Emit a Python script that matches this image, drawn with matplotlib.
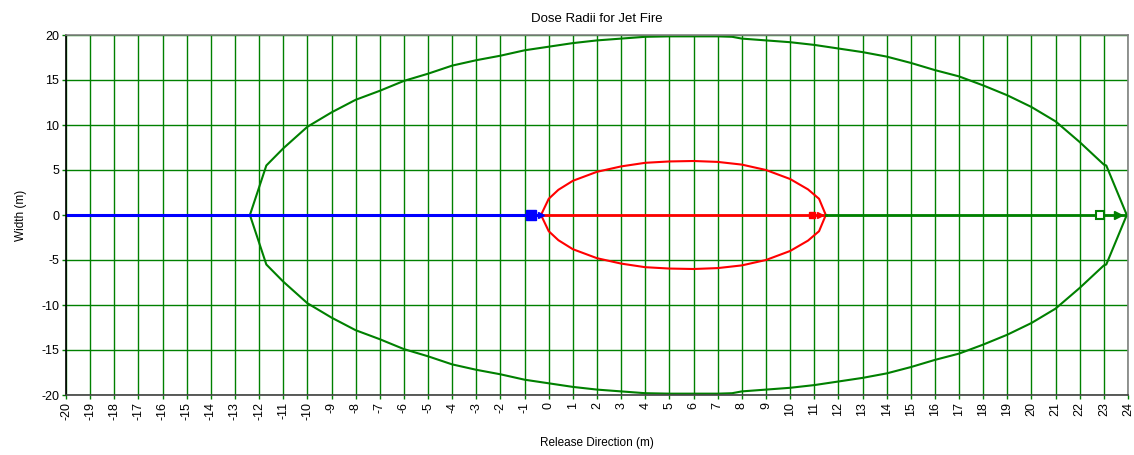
import matplotlib
matplotlib.use("Agg")
import matplotlib.pyplot as plt
import numpy as np

plt.rcParams['font.family'] = ['Liberation Sans', 'DejaVu Sans']

title = "Dose Radii for Jet Fire"
xlabel = "Release Direction (m)"
ylabel = "Width (m)"

# Outer (green) dose contour, upper half (x, y)
green_x = [-12.38, -11.7, -11, -10, -9, -8, -7, -6, -5, -4, -3, -2, -1, 0, 1, 2, 3, 4,
           5, 6, 7, 7.6, 8, 9, 10, 11, 12, 13, 14, 15, 16, 17, 18, 19, 20, 21, 22, 23, 23.1, 23.95]
green_y = [0, 5.5, 7.4, 9.8, 11.4, 12.8, 13.8, 14.9, 15.7, 16.6, 17.2, 17.7, 18.3, 18.7, 19.1, 19.4, 19.6, 19.8,
           19.85, 19.85, 19.85, 19.8, 19.6, 19.4, 19.2, 18.9, 18.5, 18.1, 17.6, 16.9, 16.1, 15.4, 14.4, 13.3, 12.0, 10.4, 8.1, 5.6, 5.5, 0]

# Inner (red) dose contour, upper half
red_x = [-0.32, 0.0, 0.4, 1, 2, 3, 4, 5, 6, 7, 8, 9, 10, 10.74, 11.2, 11.48]
red_y = [0, 1.8, 2.8, 3.8, 4.8, 5.4, 5.8, 5.95, 6.0, 5.9, 5.6, 5.0, 4.0, 2.85, 1.8, 0]

# Centre-line segments
blue_seg = [-20, -0.32]
red_seg = [-0.32, 11.48]
green_seg = [11.48, 23.95]

# marker positions (square, arrow) per segment
blue_mk = [-0.75, -0.3]
red_mk = [10.9, 11.25]
green_mk = [22.85, 23.6]

xticks = list(range(-20, 25))
yticks = list(range(-20, 21, 5))

W, H = 1134, 455
fig = plt.figure(figsize=(W / 100, H / 100), dpi=100)
ax = fig.add_axes([66 / W, 1 - 395 / H, (1128 - 66) / W, (395 - 35) / H])

GREEN = '#008000'

for x in xticks:
    ax.axvline(x, color=GREEN, lw=1, zorder=1)
for y in yticks:
    ax.axhline(y, color=GREEN, lw=1, zorder=1)

def closed(xs, ys):
    xs = np.asarray(xs, float)
    ys = np.asarray(ys, float)
    X = np.concatenate([xs, xs[::-1]])
    Y = np.concatenate([ys, -ys[::-1]])
    return X, Y

gx, gy = closed(green_x, green_y)
ax.plot(gx, gy, color=GREEN, lw=1.5, zorder=3)
rx, ry = closed(red_x, red_y)
ax.plot(rx, ry, color='#ff0000', lw=1.5, zorder=3)

ax.plot(blue_seg, [0, 0], color='#0000ff', lw=2.2, zorder=4)
ax.plot(red_seg, [0, 0], color='#ff0000', lw=2.0, zorder=4)
ax.plot(green_seg, [0, 0], color=GREEN, lw=2.0, zorder=4)

ax.plot([blue_mk[0]], [0], marker='s', ms=6.5, color='#0000ff', mec='#0000ff', zorder=5)
ax.plot([blue_mk[1]], [0], marker='>', ms=5, color='#0000ff', zorder=5)
ax.plot([red_mk[0]], [0], marker='s', ms=5, color='#ff0000', zorder=5)
ax.plot([red_mk[1]], [0], marker='>', ms=5, color='#ff0000', zorder=5)
ax.plot([green_mk[0]], [0], marker='s', ms=6, mfc='white', mec=GREEN, mew=1.5, zorder=5)
ax.plot([green_mk[1]], [0], marker='>', ms=6, color=GREEN, zorder=5)

ax.set_xlim(-20, 24)
ax.set_ylim(-20, 20)
ax.set_xticks(xticks)
ax.set_yticks(yticks)
ax.set_xticklabels([str(v) for v in xticks], rotation=90, fontsize=9)
ax.set_yticklabels([str(v) for v in yticks], fontsize=9)
ax.tick_params(axis='both', color=GREEN, length=3, width=1, pad=2)

ax.spines['left'].set_color('black')
ax.spines['bottom'].set_color('#404040')
ax.spines['top'].set_color('#808080')
ax.spines['right'].set_color('#808080')
for s in ax.spines.values():
    s.set_linewidth(1.2)
    s.set_zorder(6)

ax.set_title(title, fontsize=9.5, pad=9)
ax.set_xlabel(xlabel, fontsize=8.5, labelpad=12)
ax.set_ylabel(ylabel, fontsize=8.5, labelpad=10)

fig.savefig("out.png", dpi=100)
